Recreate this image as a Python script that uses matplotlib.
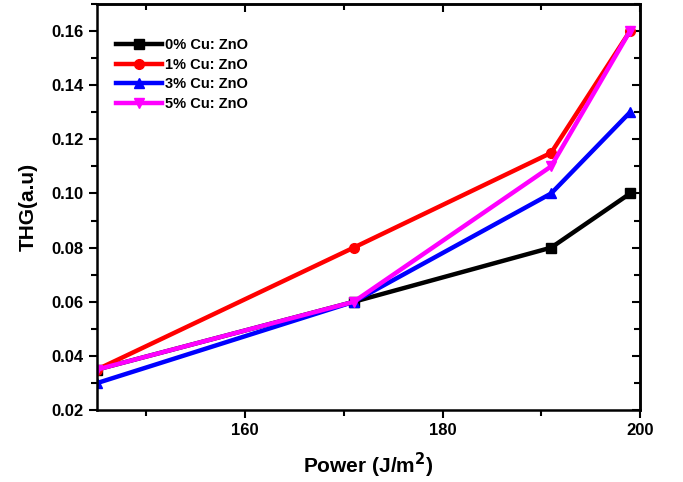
import matplotlib as mpl
mpl.use('Agg')
import matplotlib.pyplot as plt
from matplotlib.ticker import MultipleLocator

plt.rcParams['font.family'] = ['Liberation Sans', 'DejaVu Sans']
plt.rcParams['font.weight'] = 'bold'

power = [145, 171, 191, 199]
cu0 = [0.035, 0.06, 0.08, 0.10]
cu1 = [0.035, 0.08, 0.115, 0.16]
cu3 = [0.03, 0.06, 0.10, 0.13]
cu5 = [0.035, 0.06, 0.11, 0.16]
labels = ['0% Cu: ZnO', '1% Cu: ZnO', '3% Cu: ZnO', '5% Cu: ZnO']

fig = plt.figure(figsize=(6.83, 4.82), dpi=100)
ax = fig.add_axes([0.142, 0.149, 0.795, 0.843])

ax.plot(power, cu0, color='black', marker='s', lw=3.2, ms=7, label=labels[0])
ax.plot(power, cu1, color='red', marker='o', lw=3.2, ms=7, label=labels[1])
ax.plot(power, cu3, color='blue', marker='^', lw=3.2, ms=7, label=labels[2])
ax.plot(power, cu5, color='magenta', marker='v', lw=3.2, ms=7, label=labels[3])

ax.set_xlim(145, 200)
ax.set_ylim(0.02, 0.17)
ax.set_xticks([160, 180, 200])
ax.xaxis.set_minor_locator(MultipleLocator(10))
ax.yaxis.set_major_locator(MultipleLocator(0.02))
ax.yaxis.set_minor_locator(MultipleLocator(0.01))
ax.tick_params(which='both', direction='out', width=1.5, labelsize=12)
ax.tick_params(which='major', length=6)
ax.tick_params(which='minor', length=4)
for s in ax.spines.values():
    s.set_linewidth(1.8)

# mirrored ticks pointing inward on top and right
top = ax.secondary_xaxis('top')
top.set_xticks([160, 180, 200])
top.xaxis.set_minor_locator(MultipleLocator(10))
top.tick_params(which='both', direction='in', width=1.5, labeltop=False)
top.tick_params(which='major', length=6)
top.tick_params(which='minor', length=4)
right = ax.secondary_yaxis('right')
right.yaxis.set_major_locator(MultipleLocator(0.02))
right.yaxis.set_minor_locator(MultipleLocator(0.01))
right.tick_params(which='both', direction='in', width=1.5, labelright=False)
right.tick_params(which='major', length=6)
right.tick_params(which='minor', length=4)
top.spines['top'].set_linewidth(1.8)
right.spines['right'].set_linewidth(1.8)

ax.set_xlabel('Power (J/m$^\\mathbf{2}$)', fontsize=15, fontweight='bold', labelpad=9)
ax.set_ylabel('THG(a.u)', fontsize=15, fontweight='bold', labelpad=10)

ax.legend(loc='upper left', bbox_to_anchor=(0.01, 0.948), frameon=False,
          fontsize=10.5, handlelength=3.2, handletextpad=0.2,
          labelspacing=0.38, borderpad=0.4)

fig.savefig('out.png', dpi=100)
